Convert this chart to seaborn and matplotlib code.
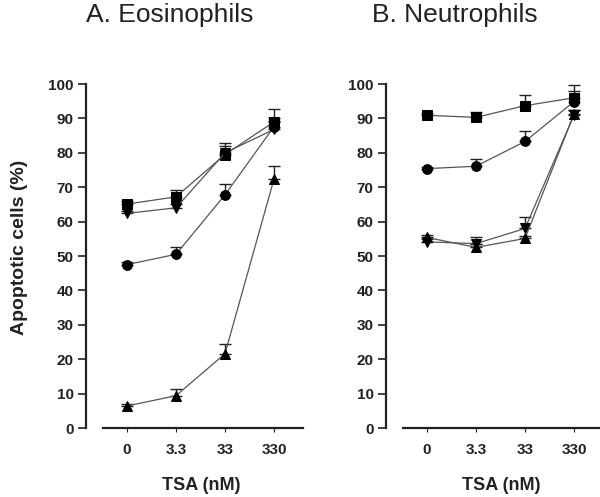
import matplotlib
matplotlib.use("Agg")
import matplotlib.pyplot as plt
import seaborn as sns
import pandas as pd
import numpy as np

categories = ["0", "3.3", "33", "330"]

# Panel A: Eosinophils
eos_sq = [65.1, 67.2, 79.5, 89.0]
eos_sq_err = [0.8, 2.0, 3.3, 3.6]
eos_dn = [62.4, 64.0, 80.0, 86.8]
eos_dn_err = [0.6, 1.0, 2.0, 2.5]
eos_ci = [47.5, 50.5, 67.8, 87.6]
eos_ci_err = [0.8, 2.1, 3.2, 2.5]
eos_up = [6.4, 9.4, 21.6, 72.4]
eos_up_err = [0.7, 1.8, 2.7, 3.7]

# Panel B: Neutrophils
neu_sq = [90.9, 90.3, 93.7, 96.0]
neu_sq_err = [0.6, 1.7, 3.1, 3.6]
neu_ci = [75.4, 76.1, 83.3, 94.9]
neu_ci_err = [0.6, 2.0, 3.1, 3.0]
neu_dn = [54.1, 53.6, 58.0, 91.0]
neu_dn_err = [0.8, 2.0, 3.4, 1.5]
neu_up = [55.4, 52.5, 55.1, 91.3]
neu_up_err = [0.6, 1.0, 0.8, 1.0]

titles = ["A. Eosinophils", "B. Neutrophils"]
xlabel = "TSA (nM)"
ylabel = "Apoptotic cells (%)"

sns.set_style("ticks")
plt.rcParams["font.family"] = ["Liberation Sans", "DejaVu Sans"]

fig = plt.figure(figsize=(6, 4.97), dpi=100)
W, H = 600, 497

def make_ax(x_spine):
    left = x_spine / W
    width = 214 / W
    bottom = (H - 428) / H
    height = (428 - 84) / H
    return fig.add_axes([left, bottom, width, height])

panels = [
    (make_ax(86), [(eos_sq, eos_sq_err, "s"), (eos_dn, eos_dn_err, "v"),
                   (eos_ci, eos_ci_err, "o"), (eos_up, eos_up_err, "^")]),
    (make_ax(386), [(neu_sq, neu_sq_err, "s"), (neu_ci, neu_ci_err, "o"),
                    (neu_dn, neu_dn_err, "v"), (neu_up, neu_up_err, "^")]),
]

TXT = "#222222"
for i, (ax, series) in enumerate(panels):
    for vals, errs, mk in series:
        df = pd.DataFrame({"x": categories, "y": vals})
        xpos = np.arange(len(categories))
        ax.errorbar(xpos, vals, yerr=[np.zeros(len(vals)), errs], fmt="none",
                    ecolor=TXT, elinewidth=1.0, capsize=4, capthick=1.0,
                    zorder=2, clip_on=False)
        sns.lineplot(data=df, x="x", y="y", ax=ax, color="#555555", linewidth=0.9,
                     marker=mk, markersize=7.5 if mk != "o" else 7,
                     markerfacecolor="black", markeredgecolor="black",
                     sort=False, zorder=3, clip_on=False)
    ax.set_xlim(-0.837, 3.53)
    ax.set_ylim(0, 100)
    ax.set_yticks(range(0, 101, 10))
    ax.set_xticks(range(len(categories)))
    ax.set_xticklabels(categories)
    for sp in ["top", "right"]:
        ax.spines[sp].set_visible(False)
    ax.spines["left"].set_linewidth(1.6)
    ax.spines["bottom"].set_linewidth(1.6)
    ax.spines["bottom"].set_bounds(-0.5, 3.6)
    ax.spines["left"].set_color(TXT)
    ax.spines["bottom"].set_color(TXT)
    ax.tick_params(axis="y", length=6, width=1.2, pad=3, labelsize=11, colors=TXT)
    ax.tick_params(axis="x", length=3, width=0.8, pad=8, labelsize=11, colors=TXT)
    for lab in ax.get_xticklabels() + ax.get_yticklabels():
        lab.set_fontweight("bold")
    ax.set_xlabel(xlabel, fontsize=13, fontweight="bold", color=TXT, va="center")
    ax.xaxis.set_label_coords((201 - 86) / 214, (428 - 485) / 344)
    if i == 0:
        ax.set_ylabel(ylabel, fontsize=14, fontweight="bold", color=TXT, va="center")
        ax.yaxis.set_label_coords((20 - 86) / 214, (428 - 247) / 344)
    else:
        ax.set_ylabel("")

fig.text(170 / W, 1 - 15 / H, titles[0], ha="center", va="center", fontsize=19, color=TXT)
fig.text(455 / W, 1 - 15 / H, titles[1], ha="center", va="center", fontsize=19, color=TXT)

fig.savefig("out.png", dpi=100)
